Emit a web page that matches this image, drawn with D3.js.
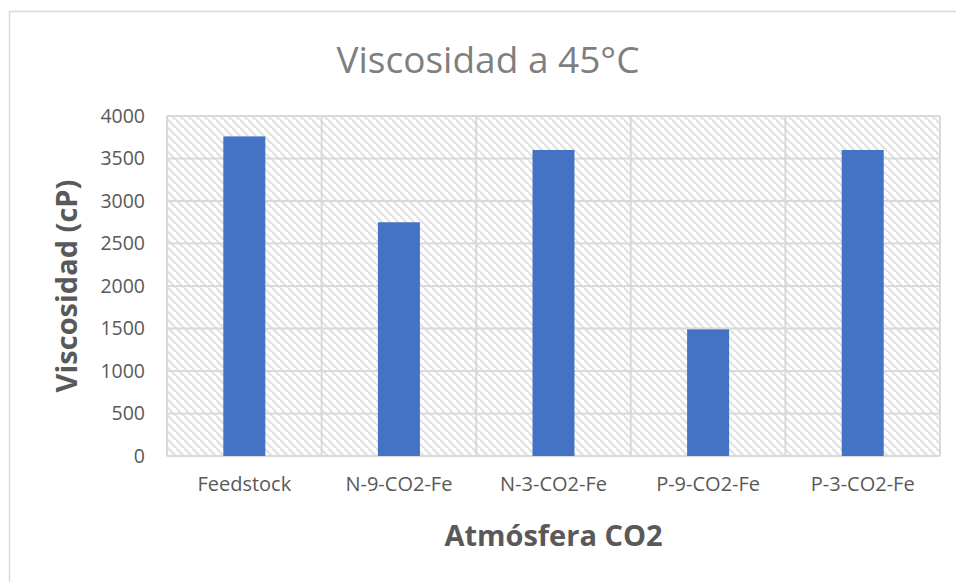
<!DOCTYPE html>
<html>
<head>
<meta charset="utf-8">
<script src="https://cdn.jsdelivr.net/npm/d3@7"></script>
<style>
  body { margin: 0; background: #fff; }
  text { font-family: "Open Sans", "Noto Sans", sans-serif; }
</style>
</head>
<body>
<svg id="chart" width="956" height="582"></svg>
<script>
// data
var categories = ["Feedstock", "N-9-CO2-Fe", "N-3-CO2-Fe", "P-9-CO2-Fe", "P-3-CO2-Fe"];
var viscosity = [3760, 2750, 3600, 1490, 3600];
var yTicks = [0, 500, 1000, 1500, 2000, 2500, 3000, 3500, 4000];

var w = 956, h = 582;
var plotLeft = 167, plotRight = 940, plotTop = 116, plotBottom = 456;

var svg = d3.select("#chart");

// hatch pattern for the plot area
var defs = svg.append("defs");
var pat = defs.append("pattern")
    .attr("id", "hatch")
    .attr("patternUnits", "userSpaceOnUse")
    .attr("width", 8)
    .attr("height", 8);
pat.append("rect").attr("width", 8).attr("height", 8).attr("fill", "#fff");
pat.append("path")
    .attr("d", "M-2,-2 L10,10 M-6,2 L2,10 M6,-6 L14,2")
    .attr("stroke", "#e1e1e1")
    .attr("stroke-width", 2.2);

// chart border
svg.append("rect")
    .attr("x", 9.5).attr("y", 11.5)
    .attr("width", 1000).attr("height", 1000)
    .attr("fill", "#fff")
    .attr("stroke", "#d9d9d9")
    .attr("stroke-width", 1.5);

// scales
var x = d3.scaleBand()
    .domain(categories)
    .range([plotLeft, plotRight]);

var y = d3.scaleLinear()
    .domain([0, 4000])
    .range([plotBottom, plotTop]);

// plot background
svg.append("rect")
    .attr("x", plotLeft).attr("y", plotTop)
    .attr("width", plotRight - plotLeft).attr("height", plotBottom - plotTop)
    .attr("fill", "url(#hatch)");

// horizontal grid
svg.selectAll(".hgrid")
    .data(yTicks)
    .enter()
    .append("line")
    .attr("class", "hgrid")
    .attr("x1", plotLeft).attr("x2", plotRight)
    .attr("y1", function(d) { return y(d); })
    .attr("y2", function(d) { return y(d); })
    .attr("stroke", "#d9d9d9")
    .attr("stroke-width", 2);

// vertical grid at category boundaries
var bounds = categories.map(function(c) { return x(c); }).concat([plotRight]);
svg.selectAll(".vgrid")
    .data(bounds)
    .enter()
    .append("line")
    .attr("class", "vgrid")
    .attr("x1", function(d) { return d; })
    .attr("x2", function(d) { return d; })
    .attr("y1", plotTop).attr("y2", plotBottom)
    .attr("stroke", "#d9d9d9")
    .attr("stroke-width", 2);

// bars
var barW = 42;
svg.selectAll(".bar")
    .data(viscosity)
    .enter()
    .append("rect")
    .attr("class", "bar")
    .attr("x", function(d, i) { return x(categories[i]) + x.bandwidth() / 2 - barW / 2; })
    .attr("y", function(d) { return y(d); })
    .attr("width", barW)
    .attr("height", function(d) { return plotBottom - y(d); })
    .attr("fill", "#4472c4");

// y axis
var yAxis = d3.axisLeft(y)
    .tickValues(yTicks)
    .tickFormat(d3.format("d"))
    .tickSize(0)
    .tickPadding(22);
var gy = svg.append("g")
    .attr("transform", "translate(" + plotLeft + ",0)")
    .call(yAxis);
gy.select(".domain").remove();
gy.selectAll("text")
    .attr("fill", "#595959")
    .style("font-size", "19.5px");

// x axis
var xAxis = d3.axisBottom(x)
    .tickSize(0)
    .tickPadding(21);
var gx = svg.append("g")
    .attr("transform", "translate(0," + plotBottom + ")")
    .call(xAxis);
gx.select(".domain").remove();
gx.selectAll("text")
    .attr("fill", "#595959")
    .style("font-size", "20px");

// title
svg.append("text")
    .attr("x", 488).attr("y", 73)
    .attr("text-anchor", "middle")
    .attr("fill", "#7f7f7f")
    .style("font-size", "37px")
    .text("Viscosidad a 45°C");

// axis titles
svg.append("text")
    .attr("x", (plotLeft + plotRight) / 2).attr("y", 546)
    .attr("text-anchor", "middle")
    .attr("fill", "#595959")
    .style("font-size", "29px")
    .style("font-weight", "bold")
    .text("Atmósfera CO2");

svg.append("text")
    .attr("transform", "translate(77," + ((plotTop + plotBottom) / 2) + ") rotate(-90)")
    .attr("text-anchor", "middle")
    .attr("fill", "#595959")
    .style("font-size", "29px")
    .style("font-weight", "bold")
    .text("Viscosidad (cP)");
</script>
</body>
</html>
